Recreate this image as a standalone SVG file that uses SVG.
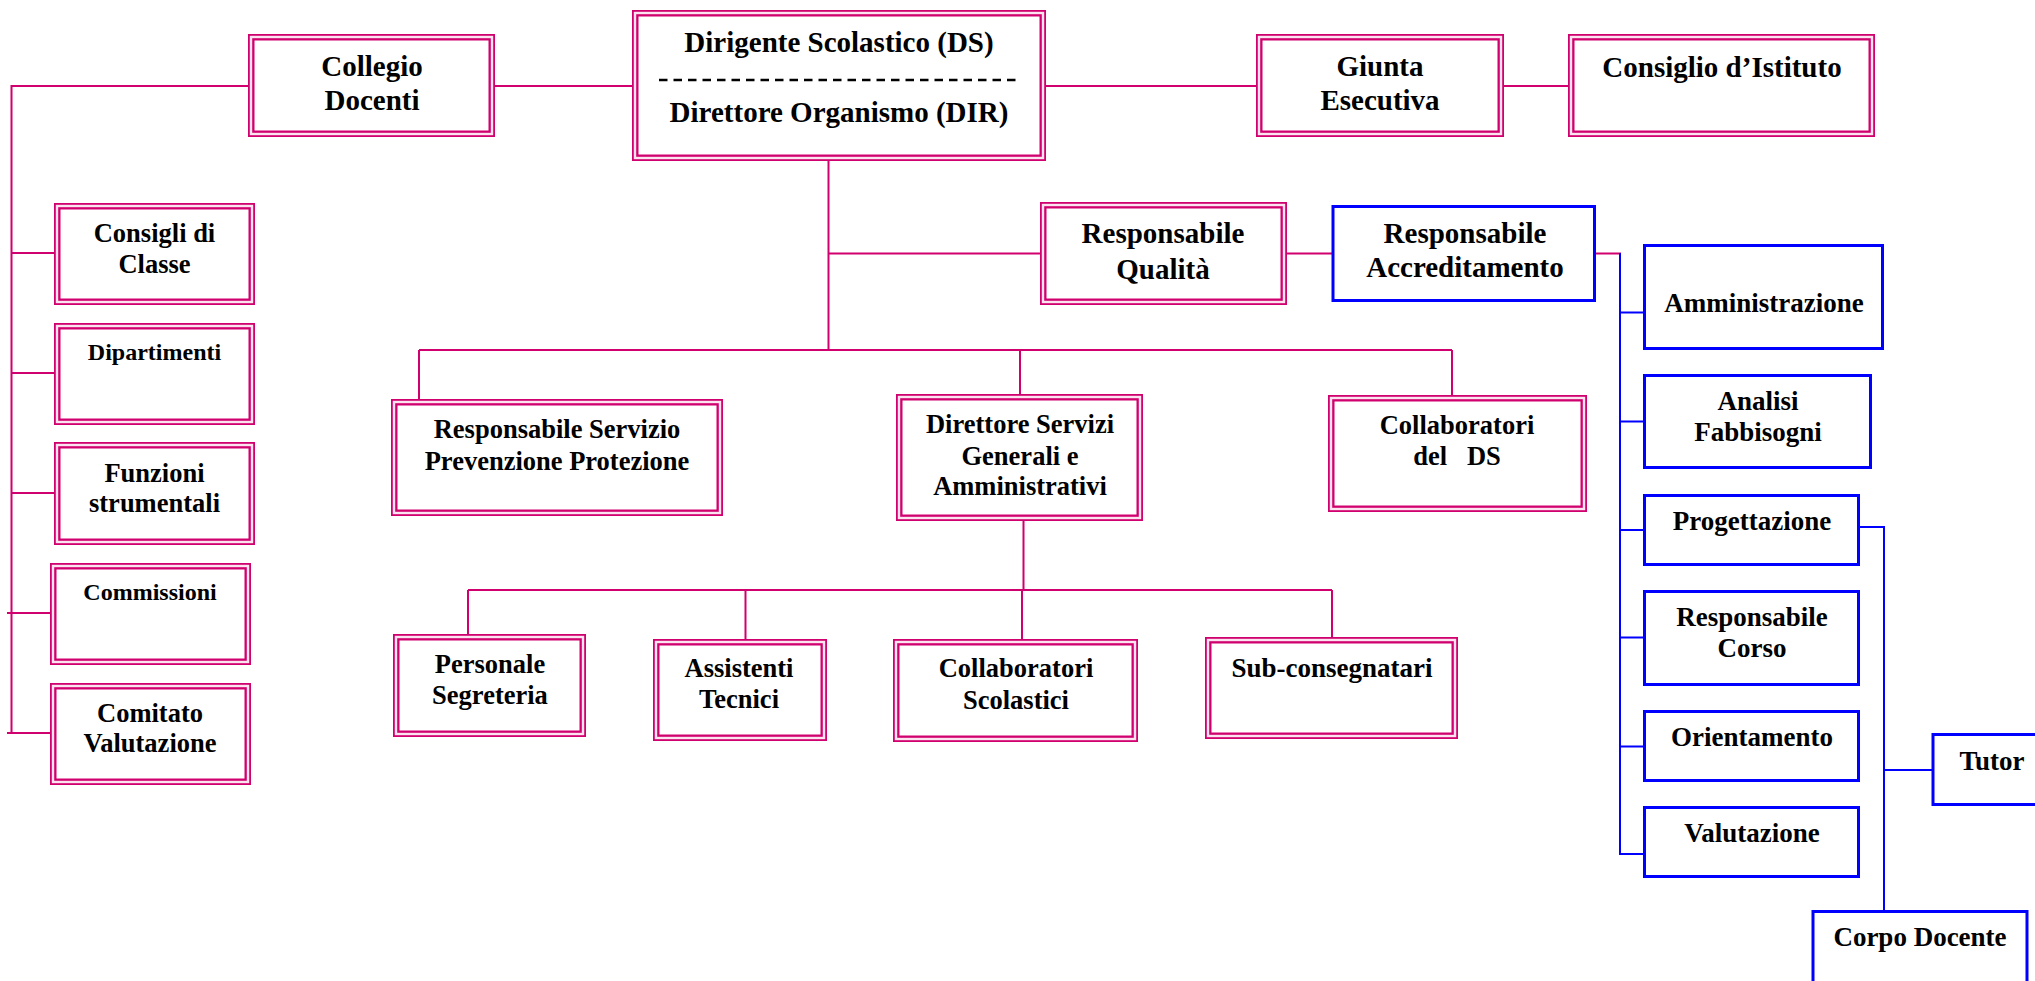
<svg xmlns="http://www.w3.org/2000/svg" width="2035" height="981" viewBox="0 0 2035 981">
<style>
.dbl{fill:#fff;stroke:#d0006f;stroke-width:6.5}
.gap{fill:none;stroke:#fbe4ef;stroke-width:2.4}
.blu{fill:#fff;stroke:#0000ff;stroke-width:3}
.cm{fill:none;stroke:#d0006f;stroke-width:2}
.cb{fill:none;stroke:#0000ff;stroke-width:2}
text{font-family:"Liberation Serif","Times New Roman",serif;font-weight:bold;fill:#000;text-anchor:middle}
.t29{font-size:29px}
.t27{font-size:27px}
.t26{font-size:26.5px}
.t24{font-size:24px}
</style>
<rect width="2035" height="981" fill="#fff"/>

<g id="connectors">
  <!-- magenta -->
  <polyline class="cm" points="248,86 11.5,86 11.5,733"/>
  <line class="cm" x1="495" y1="86" x2="632" y2="86"/>
  <line class="cm" x1="1046" y1="86" x2="1256" y2="86"/>
  <line class="cm" x1="1504" y1="86" x2="1568" y2="86"/>
  <line class="cm" x1="11.5" y1="253" x2="54" y2="253"/>
  <line class="cm" x1="11.5" y1="373" x2="54" y2="373"/>
  <line class="cm" x1="11.5" y1="493" x2="54" y2="493"/>
  <line class="cm" x1="7" y1="613" x2="50" y2="613"/>
  <line class="cm" x1="7" y1="733" x2="50" y2="733"/>
  <line class="cm" x1="828.5" y1="161" x2="828.5" y2="350"/>
  <line class="cm" x1="828.5" y1="253.5" x2="1040" y2="253.5"/>
  <line class="cm" x1="1287" y1="253.5" x2="1332" y2="253.5"/>
  <line class="cm" x1="1596" y1="253.5" x2="1621" y2="253.5"/>
  <line class="cm" x1="419" y1="350" x2="1452" y2="350"/>
  <line class="cm" x1="419" y1="350" x2="419" y2="399"/>
  <line class="cm" x1="1020" y1="350" x2="1020" y2="394"/>
  <line class="cm" x1="1452" y1="350" x2="1452" y2="395"/>
  <line class="cm" x1="1023.5" y1="521" x2="1023.5" y2="590"/>
  <line class="cm" x1="468" y1="590" x2="1332" y2="590"/>
  <line class="cm" x1="468" y1="590" x2="468" y2="634"/>
  <line class="cm" x1="745.5" y1="590" x2="745.5" y2="639"/>
  <line class="cm" x1="1022" y1="590" x2="1022" y2="639"/>
  <line class="cm" x1="1332" y1="590" x2="1332" y2="637"/>
  <!-- blue -->
  <line class="cb" x1="1620" y1="253" x2="1620" y2="855"/>
  <line class="cb" x1="1620" y1="312.5" x2="1643" y2="312.5"/>
  <line class="cb" x1="1620" y1="421.5" x2="1643" y2="421.5"/>
  <line class="cb" x1="1620" y1="530" x2="1643" y2="530"/>
  <line class="cb" x1="1620" y1="637.5" x2="1643" y2="637.5"/>
  <line class="cb" x1="1620" y1="746.5" x2="1643" y2="746.5"/>
  <line class="cb" x1="1620" y1="854" x2="1643" y2="854"/>
  <polyline class="cb" points="1860,527 1884,527 1884,910"/>
  <line class="cb" x1="1884" y1="770" x2="1932" y2="770"/>
</g>

<g id="collegio-docenti">
  <rect class="dbl" x="251.25" y="37.25" width="240.5" height="96.5"/>
  <rect class="gap" x="251" y="37" width="241" height="97"/>
  <text class="t29" x="372" y="76">Collegio</text>
  <text class="t29" x="372" y="110">Docenti</text>
</g>

<g id="dirigente">
  <rect class="dbl" x="635.25" y="13.25" width="407.5" height="144.5"/>
  <rect class="gap" x="635" y="13" width="408" height="145"/>
  <text class="t29" x="839" y="52">Dirigente Scolastico (DS)</text>
  <line x1="659" y1="80" x2="1021" y2="80" stroke="#000" stroke-width="2.5" stroke-dasharray="8.5 6"/>
  <text class="t29" x="839" y="122">Direttore Organismo (DIR)</text>
</g>

<g id="giunta">
  <rect class="dbl" x="1259.25" y="37.25" width="241.5" height="96.5"/>
  <rect class="gap" x="1259" y="37" width="242" height="97"/>
  <text class="t29" x="1380" y="76">Giunta</text>
  <text class="t29" x="1380" y="110">Esecutiva</text>
</g>

<g id="consiglio-istituto">
  <rect class="dbl" x="1571.25" y="37.25" width="300.5" height="96.5"/>
  <rect class="gap" x="1571" y="37" width="301" height="97"/>
  <text class="t29" x="1722" y="77">Consiglio d’Istituto</text>
</g>

<g id="responsabile-qualita">
  <rect class="dbl" x="1043.25" y="205.25" width="240.5" height="96.5"/>
  <rect class="gap" x="1043" y="205" width="241" height="97"/>
  <text class="t29" x="1163" y="243">Responsabile</text>
  <text class="t29" x="1163" y="279">Qualità</text>
</g>

<g id="responsabile-accreditamento">
  <rect class="blu" x="1333" y="206.5" width="261.5" height="94"/>
  <text class="t29" x="1465" y="243">Responsabile</text>
  <text class="t29" x="1465" y="277">Accreditamento</text>
</g>

<g id="consigli-classe">
  <rect class="dbl" x="57.25" y="206.25" width="194.5" height="95.5"/>
  <rect class="gap" x="57" y="206" width="195" height="96"/>
  <text class="t26" x="154.5" y="242">Consigli di</text>
  <text class="t26" x="154.5" y="273">Classe</text>
</g>

<g id="dipartimenti">
  <rect class="dbl" x="57.25" y="326.25" width="194.5" height="95.5"/>
  <rect class="gap" x="57" y="326" width="195" height="96"/>
  <text class="t24" x="154.5" y="360">Dipartimenti</text>
</g>

<g id="funzioni-strumentali">
  <rect class="dbl" x="57.25" y="445.25" width="194.5" height="96.5"/>
  <rect class="gap" x="57" y="445" width="195" height="97"/>
  <text class="t26" x="154.5" y="482">Funzioni</text>
  <text class="t26" x="154.5" y="512">strumentali</text>
</g>

<g id="commissioni">
  <rect class="dbl" x="53.25" y="566.25" width="194.5" height="95.5"/>
  <rect class="gap" x="53" y="566" width="195" height="96"/>
  <text class="t24" x="150" y="600">Commissioni</text>
</g>

<g id="comitato-valutazione">
  <rect class="dbl" x="53.25" y="686.25" width="194.5" height="95.5"/>
  <rect class="gap" x="53" y="686" width="195" height="96"/>
  <text class="t26" x="150" y="722">Comitato</text>
  <text class="t26" x="150" y="752">Valutazione</text>
</g>

<g id="rspp">
  <rect class="dbl" x="394.25" y="402.25" width="325.5" height="110.5"/>
  <rect class="gap" x="394" y="402" width="326" height="111"/>
  <text class="t26" x="557" y="438">Responsabile Servizio</text>
  <text class="t26" x="557" y="470">Prevenzione Protezione</text>
</g>

<g id="dsga">
  <rect class="dbl" x="899.25" y="397.25" width="240.5" height="120.5"/>
  <rect class="gap" x="899" y="397" width="241" height="121"/>
  <text class="t26" x="1020" y="433">Direttore Servizi</text>
  <text class="t26" x="1020" y="465">Generali e</text>
  <text class="t26" x="1020" y="495">Amministrativi</text>
</g>

<g id="collaboratori-ds">
  <rect class="dbl" x="1331.25" y="398.25" width="252.5" height="110.5"/>
  <rect class="gap" x="1331" y="398" width="253" height="111"/>
  <text class="t26" x="1457" y="434">Collaboratori</text>
  <text class="t26" x="1457" y="465" style="white-space:pre">del   DS</text>
</g>

<g id="personale-segreteria">
  <rect class="dbl" x="396.25" y="637.25" width="186.5" height="96.5"/>
  <rect class="gap" x="396" y="637" width="187" height="97"/>
  <text class="t26" x="490" y="673">Personale</text>
  <text class="t26" x="490" y="704">Segreteria</text>
</g>

<g id="assistenti-tecnici">
  <rect class="dbl" x="656.25" y="642.25" width="167.5" height="95.5"/>
  <rect class="gap" x="656" y="642" width="168" height="96"/>
  <text class="t26" x="739" y="677">Assistenti</text>
  <text class="t26" x="739" y="708">Tecnici</text>
</g>

<g id="collaboratori-scolastici">
  <rect class="dbl" x="896.25" y="642.25" width="238.5" height="96.5"/>
  <rect class="gap" x="896" y="642" width="239" height="97"/>
  <text class="t26" x="1016" y="677">Collaboratori</text>
  <text class="t26" x="1016" y="709">Scolastici</text>
</g>

<g id="sub-consegnatari">
  <rect class="dbl" x="1208.25" y="640.25" width="246.5" height="95.5"/>
  <rect class="gap" x="1208" y="640" width="247" height="96"/>
  <text class="t27" x="1332" y="677">Sub-consegnatari</text>
</g>

<g id="amministrazione">
  <rect class="blu" x="1644.5" y="245.5" width="238" height="103"/>
  <text class="t27" x="1764" y="312">Amministrazione</text>
</g>

<g id="analisi-fabbisogni">
  <rect class="blu" x="1644.5" y="375.5" width="226" height="92"/>
  <text class="t27" x="1758" y="410">Analisi</text>
  <text class="t27" x="1758" y="441">Fabbisogni</text>
</g>

<g id="progettazione">
  <rect class="blu" x="1644.5" y="495.5" width="214" height="69"/>
  <text class="t27" x="1752" y="530">Progettazione</text>
</g>

<g id="responsabile-corso">
  <rect class="blu" x="1644.5" y="591.5" width="214" height="93"/>
  <text class="t27" x="1752" y="626">Responsabile</text>
  <text class="t27" x="1752" y="657">Corso</text>
</g>

<g id="orientamento">
  <rect class="blu" x="1644.5" y="711.5" width="214" height="69"/>
  <text class="t27" x="1752" y="746">Orientamento</text>
</g>

<g id="valutazione">
  <rect class="blu" x="1644.5" y="807.5" width="214" height="69"/>
  <text class="t27" x="1752" y="842">Valutazione</text>
</g>

<g id="tutor">
  <rect class="blu" x="1933" y="734.5" width="120" height="70"/>
  <text class="t27" x="1992" y="770">Tutor</text>
</g>

<g id="corpo-docente">
  <rect class="blu" x="1813" y="911.5" width="214" height="90"/>
  <text class="t27" x="1920" y="946">Corpo Docente</text>
</g>
</svg>
